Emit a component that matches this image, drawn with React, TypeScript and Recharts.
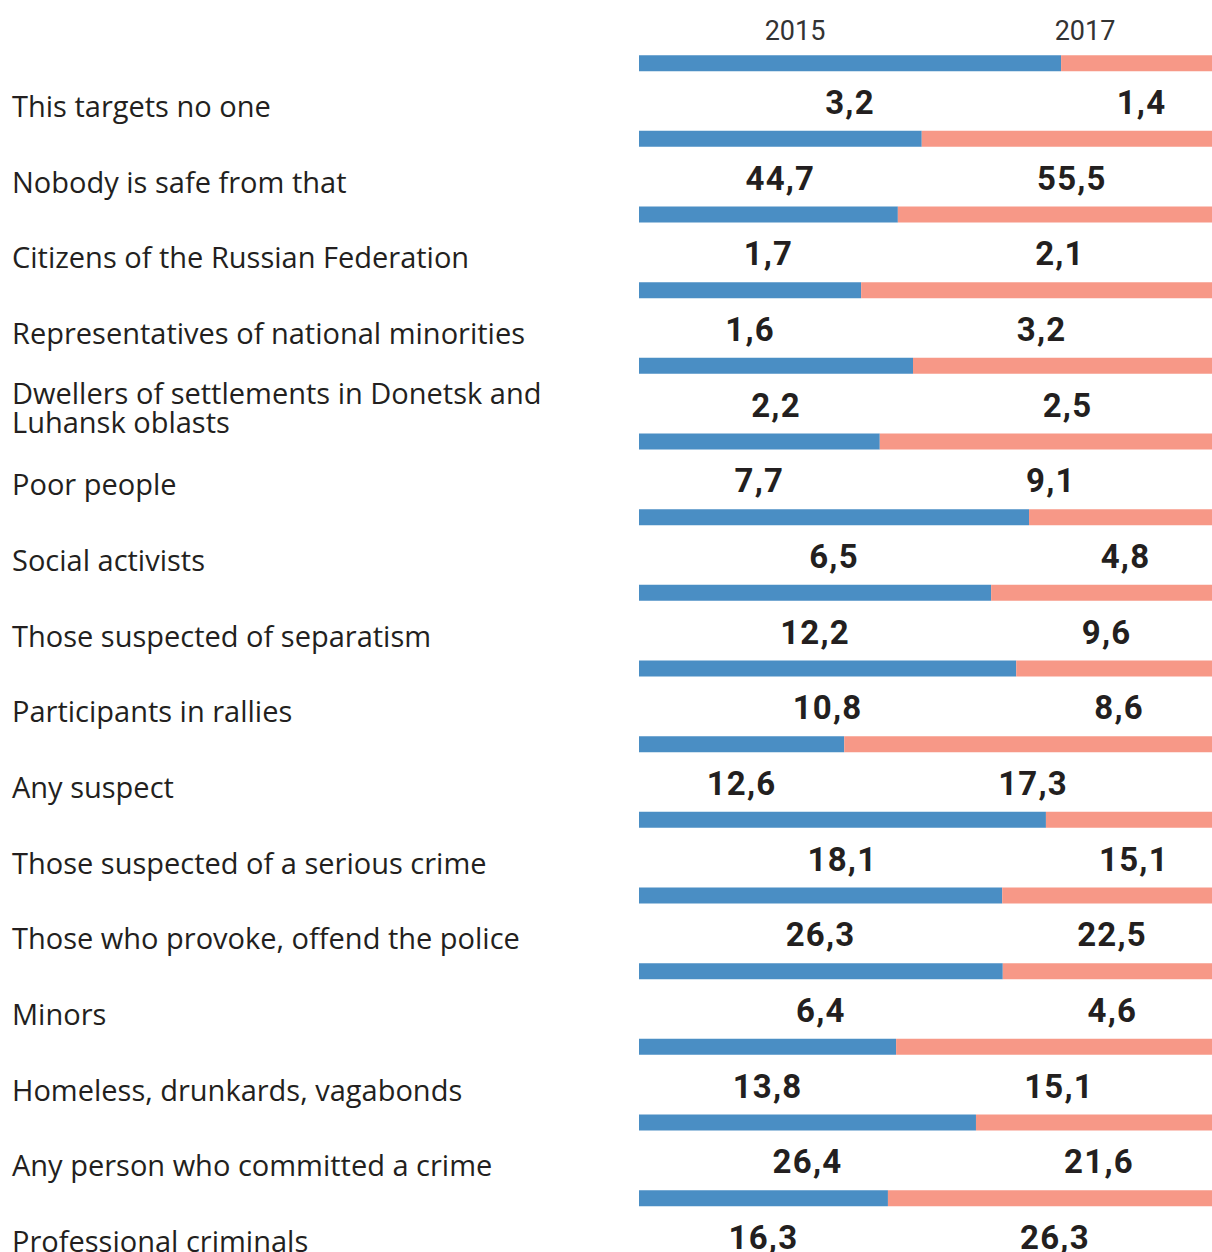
import React from 'react';
import { BarChart, Bar, XAxis, YAxis, LabelList } from 'recharts';

const categories = [
  'This targets no one',
  'Nobody is safe from that',
  'Citizens of the Russian Federation',
  'Representatives of national minorities',
  'Dwellers of settlements in Donetsk and\nLuhansk oblasts',
  'Poor people',
  'Social activists',
  'Those suspected of separatism',
  'Participants in rallies',
  'Any suspect',
  'Those suspected of a serious crime',
  'Those who provoke, offend the police',
  'Minors',
  'Homeless, drunkards, vagabonds',
  'Any person who committed a crime',
  'Professional criminals',
];

const years = ['2015', '2017'];

const values2015 = [3.2, 44.7, 1.7, 1.6, 2.2, 7.7, 6.5, 12.2, 10.8, 12.6, 18.1, 26.3, 6.4, 13.8, 26.4, 16.3];
const values2017 = [1.4, 55.5, 2.1, 3.2, 2.5, 9.1, 4.8, 9.6, 8.6, 17.3, 15.1, 22.5, 4.6, 15.1, 21.6, 26.3];

// bar split as drawn in the picture (share of the bar, %)
const barShare2015 = [72.4, 48.5, 44.4, 38.1, 47.0, 41.3, 66.9, 60.4, 64.7, 35.2, 69.8, 62.3, 62.4, 44.1, 57.8, 42.7];
const barShare2017 = [27.6, 51.5, 55.6, 61.9, 53.0, 58.7, 33.1, 39.6, 35.3, 64.8, 30.2, 37.7, 37.6, 55.9, 42.2, 57.3];

const BLUE = '#4a8ec4';
const SALMON = '#f79887';
const TEXT = '#231f20';

const data = categories.map((name, i) => ({
  name,
  s2015: barShare2015[i],
  s2017: barShare2017[i],
  v2015: values2015[i],
  v2017: values2017[i],
}));

const NUM_BASELINE = 51;
const CAT_BASELINE = 54;

const fmt = (v: number) => v.toFixed(1).replace('.', ',');

const NumberLabel = (props: any) => {
  const { x, y, width, height, value } = props;
  return (
    <text
      x={x + width / 2}
      y={y + height / 2 + NUM_BASELINE}
      textAnchor="middle"
      fontFamily="Roboto"
      fontWeight={700}
      fontSize={33}
      letterSpacing={1.2}
      fill={TEXT}
    >
      {fmt(Number(value))}
    </text>
  );
};

const CategoryTick = (props: any) => {
  const { y, payload } = props;
  const lines = String(payload.value).split('\n');
  const lineGap = 29;
  const startY = y + CAT_BASELINE - ((lines.length - 1) * lineGap) / 2 - (lines.length > 1 ? 1 : 0);
  return (
    <text x={12} y={startY} textAnchor="start" fontFamily="Open Sans" fontSize={29} fill={TEXT}>
      {lines.map((l, i) => (
        <tspan key={i} x={12} y={startY + i * lineGap}>
          {l}
        </tspan>
      ))}
    </text>
  );
};

export default function App() {
  return (
    <div style={{ position: 'absolute', left: 0, top: 0, width: 1212, height: 1252, overflow: 'hidden', background: '#fff' }}>
      <BarChart
        width={1222}
        height={1300}
        data={data}
        layout="vertical"
        margin={{ top: 25.17, right: 0, left: 0, bottom: 64.2 }}
      >
        <XAxis type="number" domain={[0, 100]} hide />
        <YAxis
          type="category"
          dataKey="name"
          width={639}
          axisLine={false}
          tickLine={false}
          tick={<CategoryTick />}
          interval={0}
        />
        <Bar dataKey="s2015" stackId="a" fill={BLUE} barSize={16} isAnimationActive={false}>
          <LabelList dataKey="v2015" content={<NumberLabel />} />
        </Bar>
        <Bar dataKey="s2017" stackId="a" fill={SALMON} barSize={16} isAnimationActive={false}>
          <LabelList dataKey="v2017" content={<NumberLabel />} />
        </Bar>
      </BarChart>
      <svg style={{ position: 'absolute', left: 0, top: 0, pointerEvents: 'none' }} width={1212} height={50}>
        <text x={795} y={40} textAnchor="middle" fontFamily="Roboto" fontSize={27} fill="#333">
          {years[0]}
        </text>
        <text x={1085} y={40} textAnchor="middle" fontFamily="Roboto" fontSize={27} fill="#333">
          {years[1]}
        </text>
      </svg>
    </div>
  );
}
